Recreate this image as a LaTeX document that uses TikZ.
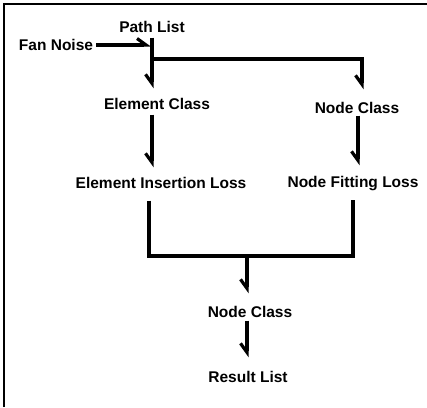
\documentclass[tikz,border=0pt]{standalone}
\usepackage{fontspec}
\setmainfont{Liberation Sans}
\usetikzlibrary{arrows.meta}

\begin{document}
\begin{tikzpicture}[x=1pt, y=-1pt,
        lbl/.style={font=\bfseries\fontsize{15.5}{18}\selectfont, inner sep=0pt, text height=11pt, text depth=0pt},
        link/.style={line width=3.2pt},
        arr/.style={link, -{Straight Barb[harpoon, swap, length=9pt, width=13pt]}}]

        \useasboundingbox (0,0) rectangle (427,407);
        \draw [line width=1.6pt] (4,407) -- (4,4) -- (427,4);

        \node (fannoise) [lbl] at (56,45) {Fan Noise};
        \node (pathlist) [lbl] at (152,27) {Path List};

        \node (elemclass) [lbl] at (157,104) {Element Class};
        \node (elemloss) [lbl] at (161,183) {Element Insertion Loss};

        \node (nodeclass) [lbl] at (357,108) {Node Class};
        \node (fitloss) [lbl] at (353,182) {Node Fitting Loss};

        \node (mergeclass) [lbl] at (250,312) {Node Class};
        \node (result) [lbl] at (248,377) {Result List};

        \coordinate (split) at (152,59);
        \coordinate (join) at (247,256);

        \draw [link, -{Straight Barb[harpoon, length=9pt, width=13pt]}] ([xshift=3pt]fannoise.east) -- ([xshift=-1pt]pathlist.south |- fannoise.east);
        \draw [arr] ([yshift=-5pt]pathlist.south) -- ([yshift=10pt]pathlist.south |- elemclass.north);
        \draw [arr] (split) -| ([xshift=5pt, yshift=13pt]nodeclass.north);

        \draw [arr] ([xshift=-5pt, yshift=-5pt]elemclass.south) -- ([xshift=-5pt, yshift=10pt]elemclass.south |- elemloss.north);
        \draw [arr] ([xshift=1pt, yshift=-2pt]nodeclass.south) -- ([xshift=1pt, yshift=11pt]nodeclass.south |- fitloss.north);

        \draw [link] ([xshift=-12pt, yshift=-12pt]elemloss.south) |- (join) -| ([yshift=-12pt]fitloss.south);
        \draw [arr] (join) -- ([yshift=13pt]mergeclass.north -| join);
        \draw [arr] ([xshift=-3pt, yshift=-3pt]mergeclass.south) -- ([xshift=-1pt, yshift=14pt]result.north);
    \end{tikzpicture}
\end{document}
